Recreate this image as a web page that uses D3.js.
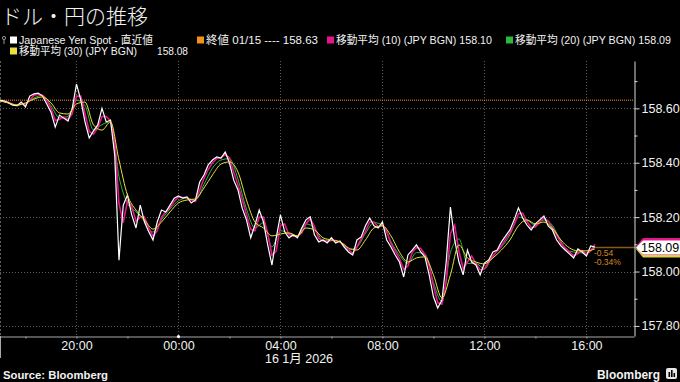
<!DOCTYPE html>
<html>
<head>
<meta charset="utf-8">
<script src="https://cdn.jsdelivr.net/npm/d3@7"></script>
<style>
body { margin: 0; background: #000; }
text { font-family: "Liberation Sans", "Noto Sans CJK JP", Arial, sans-serif; }
</style>
</head>
<body>
<div id="chart"></div>
<script>
// Donnees
var startTime = new Date(2026, 0, 15, 17, 0);
var endTime = new Date(2026, 0, 16, 17, 52);

// spot, toutes les 10 minutes depuis 17:00
var spotValues = [158.63,158.627,158.62,158.612,158.61,158.623,158.605,158.645,158.653,158.656,
  158.645,158.616,158.586,158.531,158.575,158.564,158.553,158.60,158.689,158.631,
  158.55,158.491,158.517,158.539,158.60,158.55,158.557,158.428,158.042,158.244,
  158.281,158.208,158.16,158.244,158.182,158.146,158.116,158.182,158.226,158.219,
  158.244,158.27,158.278,158.27,158.274,158.252,158.263,158.329,158.355,158.392,
  158.41,158.421,158.417,158.439,158.399,158.336,158.30,158.233,158.19,158.124,
  158.171,158.226,158.182,158.098,158.024,158.124,158.208,158.146,158.124,158.135,
  158.124,158.16,158.19,158.201,158.135,158.109,158.116,158.105,158.124,158.105,
  158.112,158.09,158.072,158.061,158.116,158.127,158.168,158.197,158.168,158.16,
  158.182,158.116,158.09,158.061,158.035,157.98,158.061,158.079,158.098,158.072,
  158.054,157.988,157.907,157.866,157.895,158.035,158.237,158.116,158.035,157.988,
  158.079,158.035,158.024,157.988,158.031,158.042,158.072,158.079,158.109,158.131,
  158.153,158.19,158.234,158.197,158.171,158.153,158.175,158.19,158.204,158.168,
  158.153,158.116,158.094,158.079,158.065,158.05,158.083,158.072,158.057,158.094,
  158.09];

// moyenne mobile (10), toutes les 10 minutes
var ma10Values = [158.628,158.628,158.622,158.615,158.61,158.618,158.612,158.63,158.648,158.652,
  158.648,158.628,158.60,158.555,158.56,158.568,158.558,158.58,158.645,158.645,
  158.58,158.515,158.505,158.528,158.57,158.57,158.555,158.48,158.25,158.18,
  158.26,158.24,158.185,158.20,158.20,158.16,158.13,158.15,158.20,158.22,
  158.235,158.258,158.274,158.272,158.272,158.262,158.258,158.30,158.342,158.375,
  158.40,158.415,158.418,158.43,158.418,158.365,158.318,158.265,158.21,158.155,
  158.15,158.20,158.20,158.14,158.06,158.075,158.17,158.175,158.135,158.13,
  158.13,158.142,158.175,158.195,158.165,158.122,158.112,158.11,158.115,158.114,
  158.108,158.10,158.081,158.066,158.09,158.12,158.148,158.182,158.182,158.164,
  158.17,158.148,158.103,158.075,158.048,158.008,158.02,158.07,158.088,158.085,
  158.063,158.02,157.948,157.886,157.88,157.965,158.14,158.17,158.075,158.01,
  158.035,158.057,158.03,158.006,158.01,158.036,158.057,158.076,158.094,158.12,
  158.142,158.172,158.212,158.215,158.184,158.162,158.164,158.182,158.197,158.186,
  158.16,158.135,158.105,158.086,158.072,158.058,158.066,158.077,158.065,158.076,
  158.10];

// moyenne mobile (20), toutes les 20 minutes
var ma20Values = [158.628,158.62,158.612,158.618,158.638,158.648,158.61,158.565,158.57,158.63,
  158.61,158.52,158.54,158.55,158.35,158.25,158.22,158.185,158.145,158.19,
  158.23,158.26,158.27,158.262,158.32,158.38,158.41,158.415,158.34,158.23,
  158.16,158.18,158.09,158.15,158.14,158.13,158.175,158.16,158.115,158.115,
  158.11,158.08,158.09,158.14,158.18,158.17,158.11,158.06,158.03,158.07,
  158.065,157.96,157.89,158.07,158.12,158.03,158.03,158.01,158.06,158.09,
  158.135,158.20,158.19,158.17,158.19,158.17,158.11,158.075,158.07,158.068,
  158.09];

// moyenne mobile (30), toutes les 20 minutes
var ma30Values = [158.627,158.62,158.612,158.62,158.634,158.642,158.62,158.583,158.579,158.616,
  158.623,158.539,158.52,158.55,158.41,158.281,158.226,158.19,158.156,158.182,
  158.219,158.252,158.263,158.267,158.307,158.355,158.395,158.403,158.366,158.263,
  158.182,158.16,158.131,158.138,158.142,158.131,158.16,158.153,158.124,158.116,
  158.109,158.087,158.079,158.116,158.16,158.168,158.131,158.072,158.035,158.05,
  158.054,157.988,157.903,157.988,158.098,158.05,158.035,158.028,158.05,158.079,
  158.116,158.168,158.19,158.175,158.182,158.16,158.116,158.087,158.076,158.076,
  158.083];

var closeValue = 158.63;
var lastLabel = "158.09";
var changeLabels = ["-0.54", "-0.34%"];
var yTickValues = [157.8, 158.0, 158.2, 158.4, 158.6];
var yMinorValues = [157.9, 158.1, 158.3, 158.5, 158.7];

var title = "ドル・円の推移";
var legendLabels = [
  "Japanese Yen Spot - 直近値",
  "終値 01/15 ---- 158.63",
  "移動平均 (10) (JPY BGN) 158.10",
  "移動平均 (20) (JPY BGN) 158.09",
  "移動平均 (30) (JPY BGN)"
];
var legendExtra = "158.08";
var dateLabel = "16 1月 2026";
var sourceLabel = "Source: Bloomberg";

// Couleurs
var cSpot = "#ffffff", cClose = "#f0921e", cMa10 = "#e5168c", cMa20 = "#2fb83a", cMa30 = "#e8e23c";

// Dimensions
var W = 680, H = 382;
var plot = {left: 0, right: 634, top: 61, bottom: 336};

var svg = d3.select("#chart").append("svg")
  .attr("width", W).attr("height", H)
  .style("background", "#000");

var x = d3.scaleTime().domain([startTime, endTime]).range([plot.left, plot.right]);
var y = d3.scaleLinear().domain([157.763, 158.774]).range([plot.bottom, plot.top]);

function toSeries(values, step) {
  return values.map(function(v, i) { return {t: d3.timeMinute.offset(startTime, i * step), v: v}; });
}

var line = d3.line().x(function(d) { return x(d.t); }).y(function(d) { return y(d.v); });

// Grille
var grid = svg.append("g");
grid.selectAll(".hgrid").data(yTickValues).enter().append("line")
  .attr("x1", plot.left).attr("x2", plot.right)
  .attr("y1", function(d) { return Math.round(y(d)) + 0.5; })
  .attr("y2", function(d) { return Math.round(y(d)) + 0.5; })
  .attr("stroke", "#5c5c5c").attr("stroke-dasharray", "1,2");
var majorHours = d3.timeHour.every(4).range(startTime, endTime);
grid.selectAll(".vgrid").data(majorHours).enter().append("line")
  .attr("x1", function(d) { return Math.round(x(d)) + 0.5; })
  .attr("x2", function(d) { return Math.round(x(d)) + 0.5; })
  .attr("y1", plot.top).attr("y2", plot.bottom)
  .attr("stroke", "#5c5c5c").attr("stroke-dasharray", "1,2");
grid.append("line")
  .attr("x1", 0.5).attr("x2", 0.5).attr("y1", plot.top).attr("y2", plot.bottom)
  .attr("stroke", "#5c5c5c").attr("stroke-dasharray", "2,2");

// Ligne du dernier cloture
svg.append("line")
  .attr("x1", plot.left).attr("x2", plot.right)
  .attr("y1", y(closeValue)).attr("y2", y(closeValue))
  .attr("stroke", cClose).attr("stroke-width", 1).attr("stroke-dasharray", "1,1");

// Series
var spot = toSeries(spotValues, 10);
svg.append("path").datum(toSeries(ma20Values, 20))
  .attr("d", line.curve(d3.curveMonotoneX)).attr("fill", "none").attr("stroke", cMa20).attr("stroke-width", 1);
svg.append("path").datum(toSeries(ma10Values, 10))
  .attr("d", line.curve(d3.curveLinear)).attr("fill", "none").attr("stroke", cMa10).attr("stroke-width", 1.6);
svg.append("path").datum(spot)
  .attr("d", line.curve(d3.curveLinear)).attr("fill", "none").attr("stroke", cSpot).attr("stroke-width", 1.2);
svg.append("path").datum(toSeries(ma30Values, 20))
  .attr("d", line.curve(d3.curveMonotoneX)).attr("fill", "none").attr("stroke", cMa30).attr("stroke-width", 1);

// Derniere valeur
var last = spot[spot.length - 1];
var yl = Math.round(y(last.v)) + 0.5;
svg.append("line")
  .attr("x1", x(last.t)).attr("x2", plot.right + 2)
  .attr("y1", yl).attr("y2", yl)
  .attr("stroke", "#8a5a14").attr("stroke-width", 1.5);
svg.selectAll(".chg").data(changeLabels).enter().append("text")
  .attr("x", x(last.t) - 1)
  .attr("y", function(d, i) { return yl + 8 + i * 9; })
  .attr("fill", "#d48a26").style("font-size", "8.5px")
  .text(function(d) { return d; });

// Axe Y
var yAxisMinor = d3.axisRight(y).tickValues(yMinorValues).tickSize(3).tickFormat("").tickSizeOuter(0);
var yAxis = d3.axisRight(y).tickValues(yTickValues).tickSize(5).tickPadding(2)
  .tickFormat(d3.format(".2f")).tickSizeOuter(0);
var gy = svg.append("g").attr("transform", "translate(" + (plot.right + 0.5) + ",0)").call(yAxis);
var gy2 = svg.append("g").attr("transform", "translate(" + (plot.right + 0.5) + ",0)").call(yAxisMinor);
gy2.select(".domain").remove();
gy.select(".domain").attr("stroke", "#d8d8d8");
svg.selectAll("g.tick line").attr("stroke", "#d8d8d8");
gy.selectAll("text").attr("fill", "#f2f2f2").style("font-size", "12.5px").style("font-family", "Liberation Sans");

// Axe X
var xAxis = d3.axisBottom(x).ticks(d3.timeHour.every(4)).tickFormat(d3.timeFormat("%H:%M"))
  .tickSize(0).tickPadding(5).tickSizeOuter(0);
var gx = svg.append("g").attr("transform", "translate(0," + (plot.bottom + 0.5) + ")").call(xAxis);
gx.select(".domain").attr("stroke", "#a8a8a8");
gx.selectAll("text").attr("fill", "#f2f2f2").style("font-size", "12.5px");
var xMinor = d3.axisBottom(x).ticks(d3.timeHour.every(2)).tickFormat("").tickSize(2).tickSizeOuter(0);
var gx2 = svg.append("g").attr("transform", "translate(0," + (plot.bottom + 0.5) + ")").call(xMinor);
gx2.select(".domain").remove();
gx2.selectAll("line").attr("stroke", "#a8a8a8");
svg.append("circle").attr("cx", x(new Date(2026, 0, 16, 0, 0))).attr("cy", plot.bottom + 0.5)
  .attr("r", 1.6).attr("fill", "#fff");
svg.append("line").attr("x1", 0.5).attr("x2", 0.5).attr("y1", plot.bottom).attr("y2", 358)
  .attr("stroke", "#a8a8a8");
svg.append("text").attr("x", 299).attr("y", 363).attr("text-anchor", "middle")
  .attr("fill", "#f2f2f2").style("font-size", "12.5px").text(dateLabel);

// Titre
svg.append("text").attr("x", 1).attr("y", 24)
  .attr("fill", "#f2f2f2").style("font-size", "21px").style("font-family", "Noto Sans CJK JP")
  .style("font-weight", 300).text(title);

// Legende
var legendLayout = [
  {x: 10, y: 40, w: 134, color: cSpot},
  {x: 197, y: 40, w: 112, color: cClose},
  {x: 327, y: 40, w: 156, color: cMa10},
  {x: 506, y: 40, w: 156, color: cMa20},
  {x: 10, y: 51, w: 118, color: cMa30}
];
var legend = svg.selectAll(".legend").data(legendLabels).enter().append("g")
  .attr("transform", function(d, i) { return "translate(" + legendLayout[i].x + "," + legendLayout[i].y + ")"; });
legend.append("rect").attr("x", 0).attr("y", -3.5).attr("width", 7).attr("height", 7)
  .attr("fill", function(d, i) { return legendLayout[i].color; });
legend.append("text").attr("x", 9).attr("y", 4)
  .attr("fill", "#f2f2f2").style("font-size", "11px")
  .attr("textLength", function(d, i) { return legendLayout[i].w; })
  .attr("lengthAdjust", "spacingAndGlyphs")
  .text(function(d) { return d; });
svg.append("text").attr("x", 157).attr("y", 55).attr("fill", "#f2f2f2")
  .style("font-size", "11px").attr("textLength", 31).attr("lengthAdjust", "spacingAndGlyphs")
  .text(legendExtra);
// petite epingle
svg.append("circle").attr("cx", 4).attr("cy", 38).attr("r", 1.6).attr("fill", "none").attr("stroke", "#999");
svg.append("line").attr("x1", 4).attr("x2", 4).attr("y1", 39.5).attr("y2", 44).attr("stroke", "#999");

// Etiquette de prix (empilee : MA30, MA10, spot)
function priceTag(dy, h) {
  var yc = yl + dy;
  return "M636," + yc + " L643," + (yc - h) + " L680," + (yc - h) + " L680," + (yc + h) + " L643," + (yc + h) + " Z";
}
svg.append("path").attr("d", priceTag(1.5, 8.5)).attr("fill", "#d9d24a");
svg.append("path").attr("d", priceTag(-1, 8.5)).attr("fill", cMa10);
svg.append("path").attr("d", priceTag(0, 7)).attr("fill", "#fff");
svg.append("text").attr("x", 641).attr("y", yl + 4.5).attr("fill", "#000")
  .style("font-size", "12.5px").text(lastLabel);

// Pied de page
svg.append("text").attr("x", 3).attr("y", 379).attr("fill", "#f2f2f2")
  .style("font-size", "10.5px").style("font-weight", "bold")
  .attr("textLength", 105).attr("lengthAdjust", "spacingAndGlyphs").text(sourceLabel);
svg.append("text").attr("x", 597).attr("y", 379).attr("fill", "#f2f2f2")
  .style("font-size", "13px").style("font-weight", "bold")
  .attr("textLength", 63).attr("lengthAdjust", "spacingAndGlyphs").text("Bloomberg");
svg.append("rect").attr("x", 666).attr("y", 368).attr("width", 11).attr("height", 11).attr("rx", 2).attr("fill", "#e8e8e8");
svg.append("rect").attr("x", 668.5).attr("y", 372).attr("width", 1.6).attr("height", 5).attr("fill", "#000");
svg.append("rect").attr("x", 671).attr("y", 370).attr("width", 1.6).attr("height", 7).attr("fill", "#000");
svg.append("rect").attr("x", 673.5).attr("y", 373).attr("width", 1.6).attr("height", 4).attr("fill", "#000");
</script>
</body>
</html>
